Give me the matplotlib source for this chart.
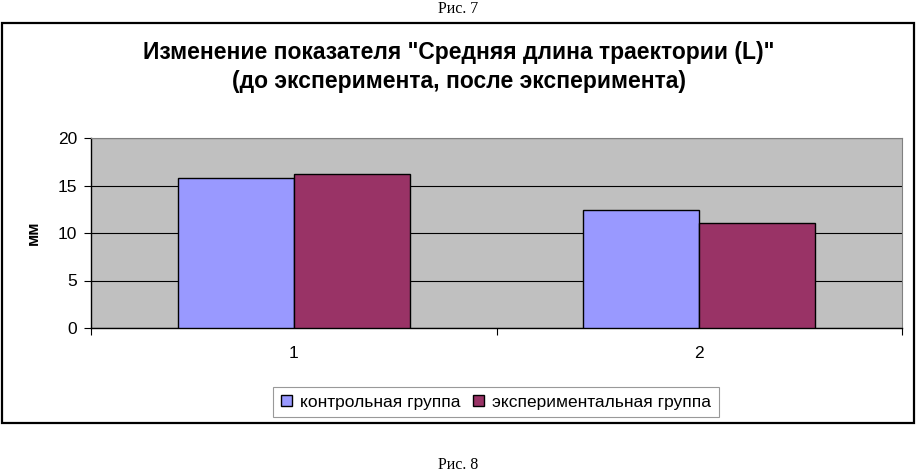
import matplotlib
matplotlib.use('Agg')
import matplotlib.pyplot as plt
from matplotlib.patches import Rectangle
import numpy as np

plt.rcParams['font.family'] = ['Liberation Sans', 'DejaVu Sans']

# data
categories = ['1', '2']
control = [15.8, 12.4]        # контрольная группа
experiment = [16.2, 11.05]    # экспериментальная группа
series_names = ['контрольная группа', 'экспериментальная группа']
yticks = [0, 5, 10, 15, 20]

W, H = 917, 475
fig = plt.figure(figsize=(W / 100, H / 100), dpi=100)

# outer chart frame
fig.patches.append(Rectangle((2 / W, (H - 423) / H), 912 / W, 400 / H,
                             transform=fig.transFigure, fill=False,
                             edgecolor='black', linewidth=1.6))

fig.text(0.5, (H - 9) / H, 'Рис. 7', ha='center', va='center',
         family='Liberation Serif', fontsize=11.5)
fig.text(0.5, (H - 465) / H, 'Рис. 8', ha='center', va='center',
         family='Liberation Serif', fontsize=11.5)

fig.text(0.5, (H - 67) / H,
         'Изменение показателя "Средняя длина траектории (L)"\n(до эксперимента, после эксперимента)',
         ha='center', va='center', fontsize=16.5, fontweight='bold', linespacing=1.3)

ax = fig.add_axes([91 / W, (H - 328) / H, 811 / W, 190 / H])
ax.set_facecolor('#C0C0C0')

x = np.arange(1, len(categories) + 1)
bw = 1 / 3.5
ax.bar(x - bw / 2, control, bw, color='#9999FF', edgecolor='black', linewidth=1,
       label=series_names[0], zorder=3)
ax.bar(x + bw / 2, experiment, bw, color='#993366', edgecolor='black', linewidth=1,
       label=series_names[1], zorder=3)

ax.set_xlim(0.5, 2.5)
ax.set_ylim(0, 20)
ax.set_yticks(yticks)
ax.set_yticklabels([str(v) for v in yticks], fontsize=12.5)
ax.yaxis.grid(True, color='black', linewidth=0.8, zorder=1)
ax.set_axisbelow(True)

# category ticks at boundaries, labels centred
ax.set_xticks([0.5, 1.5, 2.5])
ax.set_xticklabels([])
ax.set_xticks(x, minor=True)
ax.set_xticklabels(categories, minor=True, fontsize=12.5)
ax.tick_params(axis='x', which='minor', length=0, pad=13)
ax.tick_params(axis='x', which='major', length=5, direction='out', color='black')
ax.tick_params(axis='y', length=5, direction='out', pad=5)

for s in ['top', 'right']:
    ax.spines[s].set_color('#808080')
    ax.spines[s].set_linewidth(0.8)
for s in ['left', 'bottom']:
    ax.spines[s].set_color('black')
    ax.spines[s].set_linewidth(1)

ax.set_ylabel('мм', fontsize=12, fontweight='bold', labelpad=12)

leg = fig.legend(loc='center', bbox_to_anchor=(496 / W, (H - 402) / H), ncol=2,
                 fontsize=12.5, frameon=True, fancybox=False, edgecolor='#808080',
                 handlelength=0.65, handleheight=0.65, handletextpad=0.45,
                 columnspacing=0.7, borderpad=0.45)
leg.get_frame().set_linewidth(0.8)

fig.savefig('out.png', dpi=100)
